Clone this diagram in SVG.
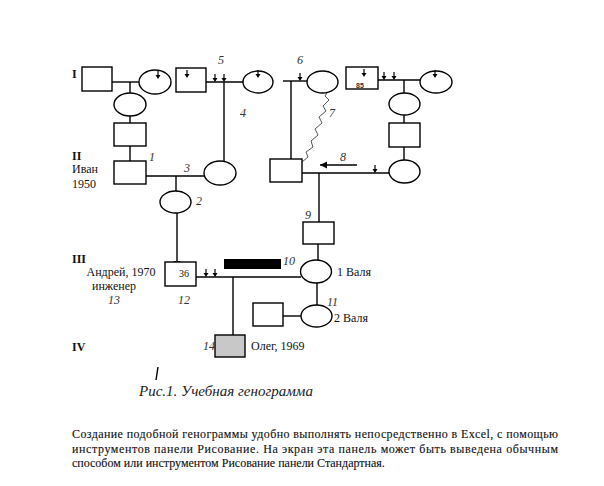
<svg xmlns="http://www.w3.org/2000/svg" width="604" height="486" viewBox="0 0 604 486">
<defs>
<style>
.s{fill:#fff;stroke:#000;stroke-width:1.4}
.l{fill:none;stroke:#000;stroke-width:1.4}
.t{font-family:"Liberation Serif",serif;font-size:12px;fill:#111}
.r{font-family:"Liberation Serif",serif;font-size:12px;font-weight:bold;fill:#111}
.n{font-family:"Liberation Serif",serif;font-size:12px;font-style:italic;fill:#333}
.p{font-family:"Liberation Serif",serif;font-size:12px;fill:#111;stroke:#111;stroke-width:0.12}
</style>
<g id="tick"><line x1="0" y1="-8" x2="0" y2="-3" stroke="#000" stroke-width="1.2"/><path d="M-2.5,-4 L2.5,-4 L0,0 Z" fill="#000"/></g>
<marker id="ah" markerWidth="8" markerHeight="8" refX="7" refY="4" orient="auto" markerUnits="userSpaceOnUse"><path d="M0,0.5 L7,4 L0,7.5 Z" fill="#000"/></marker>
</defs>
<rect width="604" height="486" fill="#fff"/>

<g id="connectors">
<line class="l" x1="112" y1="82" x2="139" y2="82"/>
<line class="l" x1="130" y1="82" x2="130" y2="93"/>
<line class="l" x1="130" y1="116" x2="130" y2="123"/>
<line class="l" x1="130" y1="146" x2="130" y2="161"/>
<line class="l" x1="146" y1="176" x2="205" y2="176"/>
<line class="l" x1="176" y1="176" x2="176" y2="191"/>
<line class="l" x1="177" y1="213" x2="177" y2="268" marker-end="url(#ah)"/>
<line class="l" x1="206" y1="82" x2="243" y2="82"/>
<line class="l" x1="224" y1="82" x2="224" y2="162"/>
<line class="l" x1="283" y1="81" x2="307" y2="81"/>
<line class="l" x1="291" y1="81" x2="291" y2="159"/>
<polyline fill="none" stroke="#555" stroke-width="1" points="328,91 325,96 329,100 323,106 326,111 319,117 322,123 315,129 318,135 311,141 313,147 306,152 308,157 302,162"/>
<line class="l" x1="378" y1="80" x2="420" y2="80"/>
<line class="l" x1="404" y1="80" x2="404" y2="93"/>
<line class="l" x1="404" y1="115" x2="404" y2="130" marker-end="url(#ah)"/>
<line class="l" x1="404" y1="147" x2="404" y2="160"/>
<line class="l" x1="302" y1="173" x2="389" y2="173"/>
<line class="l" x1="357" y1="165" x2="320" y2="165" marker-end="url(#ah)"/>
<line class="l" x1="319" y1="173" x2="319" y2="233" marker-end="url(#ah)"/>
<line class="l" x1="318" y1="244" x2="318" y2="260"/>
<line class="l" x1="196" y1="277" x2="301" y2="277"/>
<line class="l" x1="233" y1="277" x2="233" y2="335"/>
<line class="l" x1="317" y1="283" x2="317" y2="305"/>
<line class="l" x1="283" y1="316" x2="301" y2="316"/>
<use href="#tick" x="300" y="81"/>
<use href="#tick" x="215" y="82"/>
<use href="#tick" x="224" y="82"/>
<use href="#tick" x="384" y="80"/>
<use href="#tick" x="394" y="80"/>
<use href="#tick" x="375" y="173"/>
<use href="#tick" x="206" y="277"/>
<use href="#tick" x="215" y="277"/>
</g>

<g id="n-I-m1"><rect class="s" x="82" y="67" width="30" height="24"/></g>
<g id="n-I-f1"><ellipse class="s" cx="155" cy="82" rx="16" ry="12"/><use href="#tick" x="158" y="79"/></g>
<g id="n-II-f1"><ellipse class="s" cx="130" cy="104.5" rx="16" ry="11.5"/></g>
<g id="n-II-m1"><rect class="s" x="114" y="123" width="32" height="23"/></g>
<g id="n-ivan"><rect class="s" x="114" y="161" width="32" height="23"/></g>
<g id="n-I-m2"><rect class="s" x="176" y="68" width="30" height="24"/><use href="#tick" x="187" y="78"/></g>
<g id="n-I-f2"><ellipse class="s" cx="258" cy="82" rx="15" ry="11"/><use href="#tick" x="258" y="78"/></g>
<g id="n-II-f2"><ellipse class="s" cx="220" cy="173" rx="16" ry="12"/></g>
<g id="n-III-f1"><ellipse class="s" cx="175.5" cy="202" rx="15.5" ry="11"/></g>
<g id="n-I-f3"><ellipse class="s" cx="322.5" cy="82" rx="15.5" ry="11"/></g>
<g id="n-II-m3"><rect class="s" x="270" y="159" width="32" height="23"/></g>
<g id="n-I-m85"><rect class="s" x="346" y="67" width="32" height="22"/><use href="#tick" x="364" y="77"/><text x="356" y="88" font-family="Liberation Sans,sans-serif" font-size="7" font-weight="bold" fill="#333">85</text></g>
<g id="n-I-f4"><ellipse class="s" cx="436" cy="82" rx="16" ry="11"/><use href="#tick" x="435" y="78"/></g>
<g id="n-II-f4"><ellipse class="s" cx="404.5" cy="104" rx="15.5" ry="11"/></g>
<g id="n-II-m4"><rect class="s" x="389" y="123" width="31" height="24"/></g>
<g id="n-II-f5"><ellipse class="s" cx="404.5" cy="171.5" rx="15.5" ry="11.5"/></g>
<g id="n-III-m9"><rect class="s" x="303" y="222" width="31" height="22"/></g>
<g id="n-andrey"><rect class="s" x="165" y="262" width="31" height="24"/><text class="t" x="179" y="277" style="font-size:10px">36</text></g>
<g id="n-bar10"><rect x="224" y="259" width="57" height="10" fill="#000"/></g>
<g id="n-valya1"><ellipse class="s" cx="316" cy="271.5" rx="15.5" ry="11.5"/></g>
<g id="n-valya2"><ellipse class="s" cx="316.5" cy="316" rx="15.5" ry="11"/></g>
<g id="n-IV-m"><rect class="s" x="253" y="303" width="30" height="23"/></g>
<g id="n-oleg"><rect x="215" y="335" width="30" height="22" fill="#c8c8c8" stroke="#000" stroke-width="1.4"/></g>

<g id="labels">
<text class="r" x="72" y="78">I</text>
<text class="r" x="72" y="160">II</text>
<text class="t" x="72" y="173">Иван</text>
<text class="t" x="72" y="188">1950</text>
<text class="r" x="72" y="263">III</text>
<text class="t" x="121" y="276" text-anchor="middle">Андрей, 1970</text>
<text class="t" x="114" y="290" text-anchor="middle">инженер</text>
<text class="n" x="114" y="304" text-anchor="middle">13</text>
<text class="n" x="184" y="304" text-anchor="middle">12</text>
<text class="r" x="72" y="351">IV</text>
<text class="n" x="209" y="350" text-anchor="middle">14</text>
<text class="t" x="251" y="350">Олег, 1969</text>
<text class="n" x="149" y="161">1</text>
<text class="n" x="196" y="205">2</text>
<text class="n" x="184" y="172">3</text>
<text class="n" x="240" y="117">4</text>
<text class="n" x="218" y="64">5</text>
<text class="n" x="297" y="64">6</text>
<text class="n" x="329" y="117">7</text>
<text class="n" x="340" y="161">8</text>
<text class="n" x="305" y="219">9</text>
<text class="n" x="283" y="265">10</text>
<text class="n" x="327" y="306">11</text>
<text class="t" x="337" y="276">1 Валя</text>
<text class="t" x="334" y="322">2 Валя</text>
<line x1="158" y1="367" x2="156" y2="380" stroke="#000" stroke-width="1.4"/>
<text class="n" x="139" y="396" style="font-size:15px;fill:#222">Рис.1. Учебная генограмма</text>
<text class="p" x="72" y="438" textLength="486" lengthAdjust="spacing">Создание подобной генограммы удобно выполнять непосредственно в Excel, с помощью</text>
<text class="p" x="72" y="453" textLength="486" lengthAdjust="spacing">инструментов панели Рисование. На экран эта панель может быть выведена обычным</text>
<text class="p" x="72" y="467">способом или инструментом Рисование панели Стандартная.</text>
</g>
</svg>
